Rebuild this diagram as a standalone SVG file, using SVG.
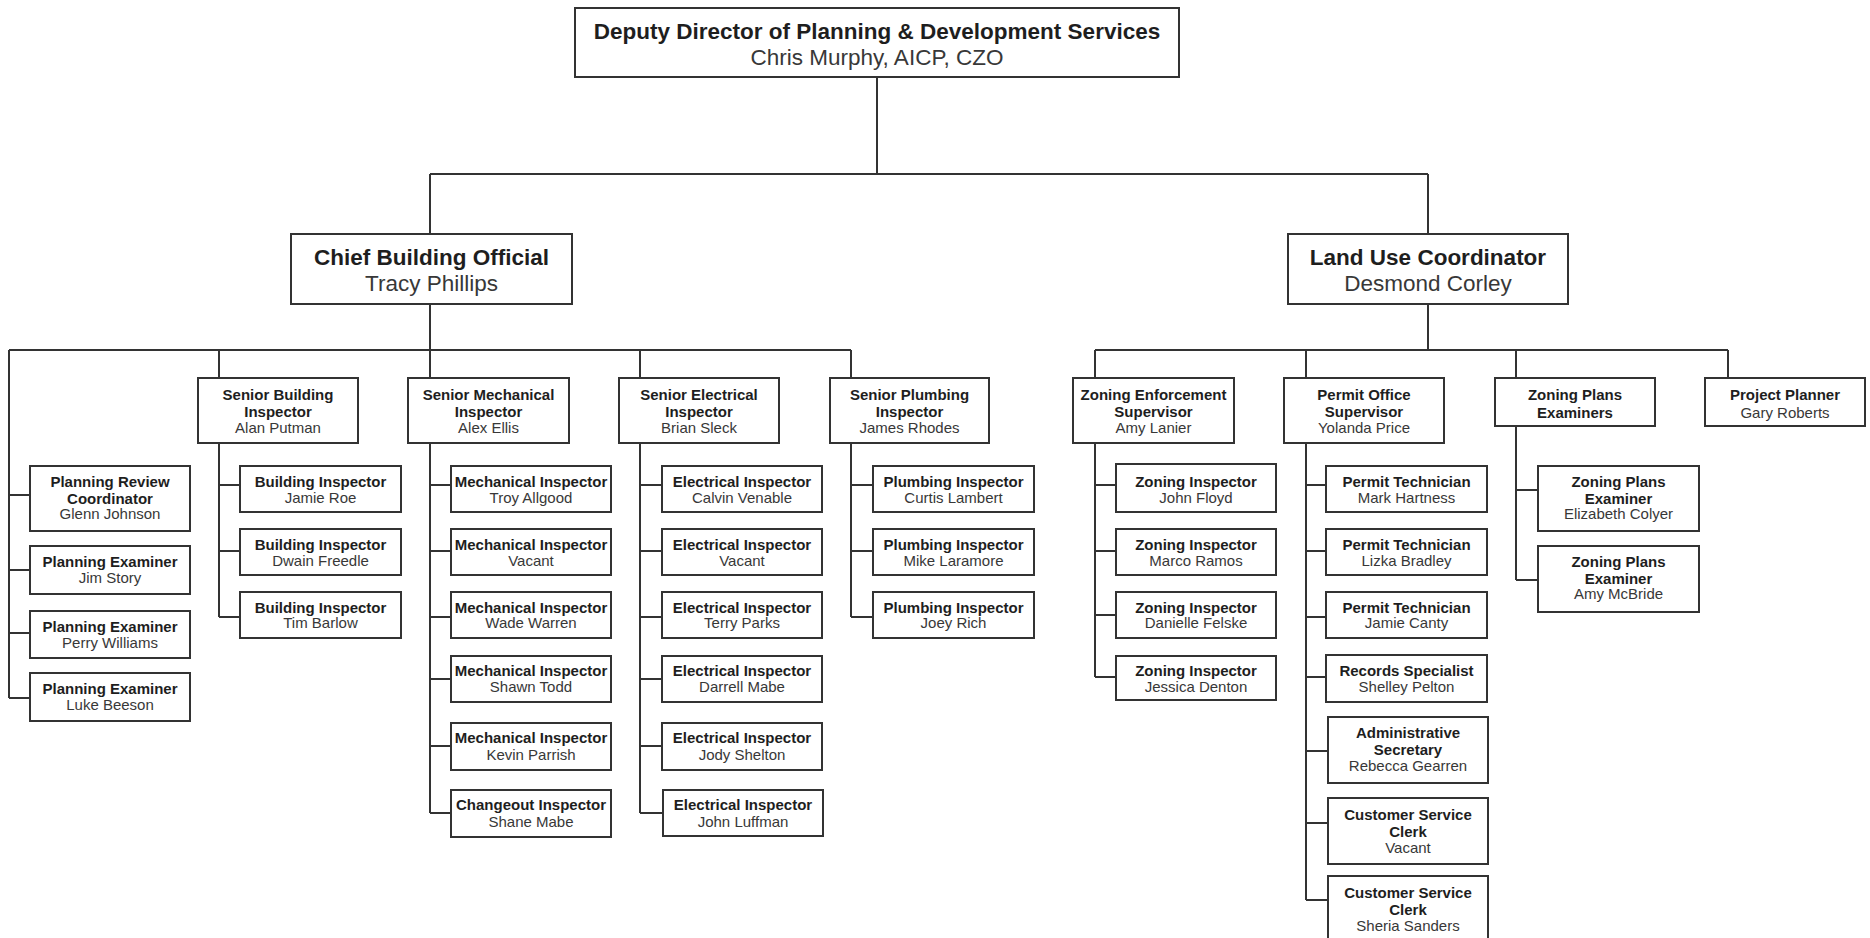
<svg xmlns="http://www.w3.org/2000/svg" width="1870" height="938" viewBox="0 0 1870 938">
<style>
rect{fill:#fff;stroke:#333;stroke-width:2}
text{font-family:"Liberation Sans",Arial,sans-serif;text-anchor:middle;font-size:15px}
.t{font-weight:bold;fill:#1e1e1e}
.n{fill:#383838}
.big{font-size:22.5px}
#connectors path{fill:none;stroke:#333;stroke-width:2}
</style>
<rect x="0" y="0" width="1870" height="938" style="stroke:none"/>
<g id="connectors">
<path d="M877 77V174M430 174H1428M430 174V234M1428 174V234"/>
<path d="M430 304V350M9 350H851M9 350V698M219 350V378M430 350V378M640 350V378M851 350V378"/>
<path d="M9 495H30M9 570H30M9 633H30M9 698H30"/>
<path d="M219 443V617M219 485H240M219 551H240M219 617H240"/>
<path d="M430 443V813M430 485H451M430 551H451M430 617H451M430 679H451M430 746H451M430 813H451"/>
<path d="M640 443V813M640 485H662M640 551H662M640 617H662M640 679H662M640 746H662M640 813H663"/>
<path d="M851 443V617M851 485H873M851 551H873M851 617H873"/>
<path d="M1428 304V350M1095 350H1728M1095 350V378M1306 350V378M1516 350V378M1728 350V378"/>
<path d="M1095 443V677M1095 485H1116M1095 551H1116M1095 615H1116M1095 677H1116"/>
<path d="M1306 443V900M1306 485H1326M1306 551H1326M1306 617H1326M1306 677H1326M1306 751H1328M1306 823H1328M1306 900H1328"/>
<path d="M1516 426V580M1516 490H1538M1516 580H1538"/>
</g>

<g id="deputy-director"><rect x="575" y="8" width="604" height="69"/><text class="t big" x="877" y="39">Deputy Director of Planning &amp; Development Services</text><text class="n big" x="877" y="65">Chris Murphy, AICP, CZO</text></g>
<g id="chief-building-official"><rect x="291" y="234" width="281" height="70"/><text class="t big" x="431.5" y="265">Chief Building Official</text><text class="n big" x="431.5" y="291">Tracy Phillips</text></g>
<g id="land-use-coordinator"><rect x="1288" y="234" width="280" height="70"/><text class="t big" x="1428" y="265">Land Use Coordinator</text><text class="n big" x="1428" y="291">Desmond Corley</text></g>

<g id="senior-building"><rect x="198" y="378" width="160" height="65"/><text class="t" x="278" y="400">Senior Building</text><text class="t" x="278" y="417">Inspector</text><text class="n" x="278" y="433">Alan Putman</text></g>
<g id="senior-mechanical"><rect x="408" y="378" width="161" height="65"/><text class="t" x="488.5" y="400">Senior Mechanical</text><text class="t" x="488.5" y="417">Inspector</text><text class="n" x="488.5" y="433">Alex Ellis</text></g>
<g id="senior-electrical"><rect x="619" y="378" width="160" height="65"/><text class="t" x="699" y="400">Senior Electrical</text><text class="t" x="699" y="417">Inspector</text><text class="n" x="699" y="433">Brian Sleck</text></g>
<g id="senior-plumbing"><rect x="830" y="378" width="159" height="65"/><text class="t" x="909.5" y="400">Senior Plumbing</text><text class="t" x="909.5" y="417">Inspector</text><text class="n" x="909.5" y="433">James Rhodes</text></g>
<g id="zoning-enforcement"><rect x="1073" y="378" width="161" height="65"/><text class="t" x="1153.5" y="400">Zoning Enforcement</text><text class="t" x="1153.5" y="417">Supervisor</text><text class="n" x="1153.5" y="433">Amy Lanier</text></g>
<g id="permit-office"><rect x="1284" y="378" width="160" height="65"/><text class="t" x="1364" y="400">Permit Office</text><text class="t" x="1364" y="417">Supervisor</text><text class="n" x="1364" y="433">Yolanda Price</text></g>
<g id="zoning-plans-examiners"><rect x="1495" y="378" width="160" height="48"/><text class="t" x="1575" y="400">Zoning Plans</text><text class="t" x="1575" y="418">Examiners</text></g>
<g id="project-planner"><rect x="1705" y="378" width="160" height="48"/><text class="t" x="1785" y="400">Project Planner</text><text class="n" x="1785" y="418">Gary Roberts</text></g>

<g id="planning-review"><rect x="30" y="466" width="160" height="65"/><text class="t" x="110" y="487">Planning Review</text><text class="t" x="110" y="504">Coordinator</text><text class="n" x="110" y="519">Glenn Johnson</text></g>
<g id="planning-examiner-1"><rect x="30" y="546" width="160" height="48"/><text class="t" x="110" y="567">Planning Examiner</text><text class="n" x="110" y="583">Jim Story</text></g>
<g id="planning-examiner-2"><rect x="30" y="611" width="160" height="47"/><text class="t" x="110" y="632">Planning Examiner</text><text class="n" x="110" y="648">Perry Williams</text></g>
<g id="planning-examiner-3"><rect x="30" y="673" width="160" height="48"/><text class="t" x="110" y="694">Planning Examiner</text><text class="n" x="110" y="710">Luke Beeson</text></g>

<g id="building-1"><rect x="240" y="466" width="161" height="46"/><text class="t" x="320.5" y="487">Building Inspector</text><text class="n" x="320.5" y="503">Jamie Roe</text></g>
<g id="building-2"><rect x="240" y="529" width="161" height="46"/><text class="t" x="320.5" y="550">Building Inspector</text><text class="n" x="320.5" y="566">Dwain Freedle</text></g>
<g id="building-3"><rect x="240" y="592" width="161" height="46"/><text class="t" x="320.5" y="613">Building Inspector</text><text class="n" x="320.5" y="628">Tim Barlow</text></g>

<g id="mechanical-1"><rect x="451" y="466" width="160" height="46"/><text class="t" x="531" y="487">Mechanical Inspector</text><text class="n" x="531" y="503">Troy Allgood</text></g>
<g id="mechanical-2"><rect x="451" y="529" width="160" height="46"/><text class="t" x="531" y="550">Mechanical Inspector</text><text class="n" x="531" y="566">Vacant</text></g>
<g id="mechanical-3"><rect x="451" y="592" width="160" height="46"/><text class="t" x="531" y="613">Mechanical Inspector</text><text class="n" x="531" y="628">Wade Warren</text></g>
<g id="mechanical-4"><rect x="451" y="656" width="160" height="46"/><text class="t" x="531" y="676">Mechanical Inspector</text><text class="n" x="531" y="692">Shawn Todd</text></g>
<g id="mechanical-5"><rect x="451" y="723" width="160" height="47"/><text class="t" x="531" y="743">Mechanical Inspector</text><text class="n" x="531" y="760">Kevin Parrish</text></g>
<g id="changeout"><rect x="451" y="790" width="160" height="47"/><text class="t" x="531" y="810">Changeout Inspector</text><text class="n" x="531" y="827">Shane Mabe</text></g>

<g id="electrical-1"><rect x="662" y="466" width="160" height="46"/><text class="t" x="742" y="487">Electrical Inspector</text><text class="n" x="742" y="503">Calvin Venable</text></g>
<g id="electrical-2"><rect x="662" y="529" width="160" height="46"/><text class="t" x="742" y="550">Electrical Inspector</text><text class="n" x="742" y="566">Vacant</text></g>
<g id="electrical-3"><rect x="662" y="592" width="160" height="46"/><text class="t" x="742" y="613">Electrical Inspector</text><text class="n" x="742" y="628">Terry Parks</text></g>
<g id="electrical-4"><rect x="662" y="656" width="160" height="46"/><text class="t" x="742" y="676">Electrical Inspector</text><text class="n" x="742" y="692">Darrell Mabe</text></g>
<g id="electrical-5"><rect x="662" y="723" width="160" height="47"/><text class="t" x="742" y="743">Electrical Inspector</text><text class="n" x="742" y="760">Jody Shelton</text></g>
<g id="electrical-6"><rect x="663" y="790" width="160" height="46"/><text class="t" x="743" y="810">Electrical Inspector</text><text class="n" x="743" y="827">John Luffman</text></g>

<g id="plumbing-1"><rect x="873" y="466" width="161" height="46"/><text class="t" x="953.5" y="487">Plumbing Inspector</text><text class="n" x="953.5" y="503">Curtis Lambert</text></g>
<g id="plumbing-2"><rect x="873" y="529" width="161" height="46"/><text class="t" x="953.5" y="550">Plumbing Inspector</text><text class="n" x="953.5" y="566">Mike Laramore</text></g>
<g id="plumbing-3"><rect x="873" y="592" width="161" height="46"/><text class="t" x="953.5" y="613">Plumbing Inspector</text><text class="n" x="953.5" y="628">Joey Rich</text></g>

<g id="zoning-1"><rect x="1116" y="464" width="160" height="48"/><text class="t" x="1196" y="487">Zoning Inspector</text><text class="n" x="1196" y="503">John Floyd</text></g>
<g id="zoning-2"><rect x="1116" y="529" width="160" height="46"/><text class="t" x="1196" y="550">Zoning Inspector</text><text class="n" x="1196" y="566">Marco Ramos</text></g>
<g id="zoning-3"><rect x="1116" y="592" width="160" height="46"/><text class="t" x="1196" y="613">Zoning Inspector</text><text class="n" x="1196" y="628">Danielle Felske</text></g>
<g id="zoning-4"><rect x="1116" y="656" width="160" height="44"/><text class="t" x="1196" y="676">Zoning Inspector</text><text class="n" x="1196" y="692">Jessica Denton</text></g>

<g id="permit-tech-1"><rect x="1326" y="466" width="161" height="46"/><text class="t" x="1406.5" y="487">Permit Technician</text><text class="n" x="1406.5" y="503">Mark Hartness</text></g>
<g id="permit-tech-2"><rect x="1326" y="529" width="161" height="46"/><text class="t" x="1406.5" y="550">Permit Technician</text><text class="n" x="1406.5" y="566">Lizka Bradley</text></g>
<g id="permit-tech-3"><rect x="1326" y="592" width="161" height="46"/><text class="t" x="1406.5" y="613">Permit Technician</text><text class="n" x="1406.5" y="628">Jamie Canty</text></g>
<g id="records-specialist"><rect x="1326" y="655" width="161" height="47"/><text class="t" x="1406.5" y="676">Records Specialist</text><text class="n" x="1406.5" y="692">Shelley Pelton</text></g>
<g id="admin-secretary"><rect x="1328" y="717" width="160" height="66"/><text class="t" x="1408" y="738">Administrative</text><text class="t" x="1408" y="755">Secretary</text><text class="n" x="1408" y="771">Rebecca Gearren</text></g>
<g id="customer-service-1"><rect x="1328" y="798" width="160" height="66"/><text class="t" x="1408" y="820">Customer Service</text><text class="t" x="1408" y="837">Clerk</text><text class="n" x="1408" y="853">Vacant</text></g>
<g id="customer-service-2"><rect x="1328" y="876" width="160" height="66"/><text class="t" x="1408" y="898">Customer Service</text><text class="t" x="1408" y="915">Clerk</text><text class="n" x="1408" y="931">Sheria Sanders</text></g>

<g id="zoning-plans-1"><rect x="1538" y="466" width="161" height="65"/><text class="t" x="1618.5" y="487">Zoning Plans</text><text class="t" x="1618.5" y="504">Examiner</text><text class="n" x="1618.5" y="519">Elizabeth Colyer</text></g>
<g id="zoning-plans-2"><rect x="1538" y="546" width="161" height="66"/><text class="t" x="1618.5" y="567">Zoning Plans</text><text class="t" x="1618.5" y="584">Examiner</text><text class="n" x="1618.5" y="599">Amy McBride</text></g>
</svg>
